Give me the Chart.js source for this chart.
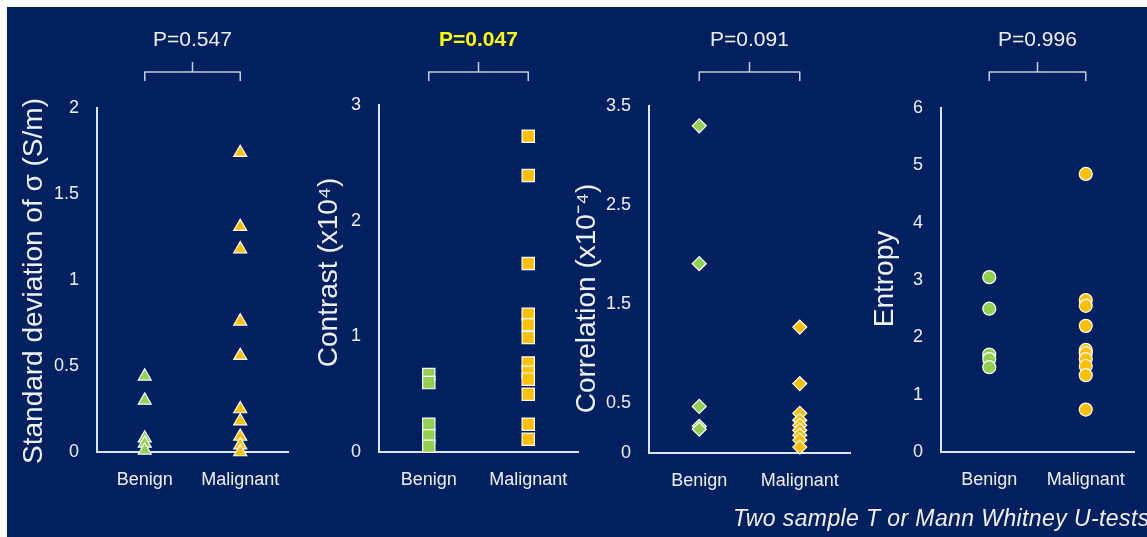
<!DOCTYPE html>
<html><head><meta charset="utf-8">
<script src="https://cdn.jsdelivr.net/npm/chart.js@4.4.1/dist/chart.umd.min.js"></script>
<style>
html,body{margin:0;padding:0;background:#ffffff;width:1147px;height:537px;overflow:hidden;}
#bg{position:absolute;left:7px;top:7px;width:1140px;height:530px;background:#002060;}
.pc{position:absolute;top:0;height:537px;}
#foot{position:absolute;left:733px;top:505px;font:italic 23px "Liberation Sans",Arial,sans-serif;letter-spacing:0.4px;color:#f2f2f2;white-space:nowrap;}
</style></head><body>
<div id="bg"></div>
<div class="pc" style="left:0px;width:300px"><canvas id="c1" width="300" height="537"></canvas></div>
<div class="pc" style="left:300px;width:290px"><canvas id="c2" width="290" height="537"></canvas></div>
<div class="pc" style="left:570px;width:290px"><canvas id="c3" width="290" height="537"></canvas></div>
<div class="pc" style="left:860px;width:287px"><canvas id="c4" width="287" height="537"></canvas></div>
<div id="foot">Two sample T or Mann Whitney U-tests</div>
<script>
// ---- data ----
const categories = ['Benign', 'Malignant'];
const sdBenign = [0.44, 0.30, 0.08, 0.05, 0.01];
const sdMalignant = [1.74, 1.31, 1.18, 0.76, 0.56, 0.25, 0.18, 0.09, 0.04, 0.0];
const contrastBenign = [0.67, 0.60, 0.24, 0.14, 0.05];
const contrastMalignant = [2.73, 2.39, 1.63, 1.19, 1.10, 0.99, 0.77, 0.69, 0.63, 0.50, 0.24, 0.11];
const corrBenign = [3.30, 1.91, 0.47, 0.27, 0.24];
const corrMalignant = [1.27, 0.70, 0.40, 0.33, 0.28, 0.23, 0.18, 0.13, 0.06];
const entropyBenign = [3.05, 2.50, 1.70, 1.62, 1.48];
const entropyMalignant = [4.85, 2.65, 2.55, 2.20, 1.78, 1.72, 1.62, 1.50, 1.34, 0.74];
const pValues = ['P=0.547', 'P=0.047', 'P=0.091', 'P=0.996'];
const sdTicks = [0, 0.5, 1, 1.5, 2];
const contrastTicks = [0, 1, 2, 3];
const corrTicks = [0, 0.5, 1.5, 2.5, 3.5];
const entropyTicks = [0, 1, 2, 3, 4, 5, 6];
const yTitles = ['Standard deviation of \u03C3 (S/m)', 'Contrast (x10\u2074)', 'Correlation (x10\u207B\u2074)', 'Entropy'];

// ---- styles ----
const FONT = '"Liberation Sans", Arial, sans-serif';
const TXT = '#eef0f4';
const AXIS = '#dfe3ea';
const GREEN = '#92D050';
const ORANGE = '#FFC000';

const deco = {
  id: 'deco',
  afterDraw(chart, args, o) {
    const ctx = chart.ctx;
    const xs = chart.scales.x;
    const x0 = xs.getPixelForValue(0), x1 = xs.getPixelForValue(1);
    const cx = (x0 + x1) / 2;
    ctx.save();
    ctx.strokeStyle = '#c9cfe0';
    ctx.lineWidth = 1.5;
    ctx.lineJoin = 'round';
    ctx.beginPath();
    ctx.moveTo(x0, 81); ctx.lineTo(x0, 72); ctx.lineTo(x1, 72); ctx.lineTo(x1, 81);
    ctx.moveTo(cx, 72); ctx.lineTo(cx, 62);
    ctx.stroke();
    ctx.fillStyle = o.pColor;
    ctx.font = (o.pBold ? 'bold ' : '') + '21px ' + FONT;
    ctx.textAlign = 'center';
    ctx.textBaseline = 'middle';
    ctx.fillText(o.pText, cx, 40);
    const ca = chart.chartArea;
    ctx.translate(o.titleX, (ca.top + ca.bottom) / 2 + o.titleDy);
    ctx.rotate(-Math.PI / 2);
    ctx.fillStyle = TXT;
    ctx.font = '28px ' + FONT;
    ctx.textAlign = 'center';
    ctx.textBaseline = 'alphabetic';
    ctx.fillText(o.title, 0, 0);
    ctx.restore();
  }
};

function makePanel(id, benign, malignant, shape, radius, yMax, ticks, idx, lay) {
  const mk = (vals, cat, col) => ({
    data: vals.map(v => ({x: cat, y: v})),
    showLine: false,
    pointStyle: shape,
    pointRadius: radius,
    pointHoverRadius: radius,
    pointBackgroundColor: col,
    pointBorderColor: '#ffffff',
    pointBorderWidth: 1.2,
    clip: false
  });
  new Chart(document.getElementById(id), {
    type: 'line',
    data: {
      labels: categories,
      datasets: [mk(benign, categories[0], GREEN), mk(malignant, categories[1], ORANGE)]
    },
    options: {
      responsive: false,
      animation: false,
      events: [],
      layout: {padding: {left: 0, top: lay.top, right: lay.right, bottom: 0}},
      plugins: {
        legend: {display: false},
        tooltip: {enabled: false},
        deco: {
          pText: pValues[idx],
          pColor: idx === 1 ? '#FFFF00' : TXT,
          pBold: idx === 1,
          title: yTitles[idx],
          titleX: lay.titleX,
          titleDy: lay.titleDy
        }
      },
      scales: {
        x: {
          type: 'category',
          offset: true,
          grid: {display: false},
          border: {display: true, color: AXIS, width: 2},
          ticks: {color: TXT, font: {size: 18, family: FONT}, padding: 9},
          afterFit: s => { s.height = 537 - lay.bottom; }
        },
        y: {
          type: 'linear',
          min: 0,
          max: yMax,
          grid: {display: false},
          border: {display: true, color: AXIS, width: 2},
          ticks: {color: TXT, font: {size: 18, family: FONT}, padding: 10, callback: v => String(v)},
          afterBuildTicks: s => { s.ticks = ticks.map(v => ({value: v})); },
          afterFit: s => { s.width = lay.left; }
        }
      }
    },
    plugins: [deco]
  });
}

makePanel('c1', sdBenign, sdMalignant, 'triangle', 7.5, 2, sdTicks, 0,
  {left: 97, right: 12, top: 108, bottom: 452, titleX: 42, titleDy: 1});
makePanel('c2', contrastBenign, contrastMalignant, 'rect', 8.7, 3, contrastTicks, 1,
  {left: 79, right: 12, top: 105, bottom: 452, titleX: 37, titleDy: -6});
makePanel('c3', corrBenign, corrMalignant, 'rectRot', 7, 3.5, corrTicks, 2,
  {left: 79, right: 10, top: 106, bottom: 453, titleX: 25, titleDy: 19});
makePanel('c4', entropyBenign, entropyMalignant, 'circle', 6.5, 6, entropyTicks, 3,
  {left: 81, right: 13, top: 108, bottom: 452, titleX: 33, titleDy: -1});
</script>
</body></html>
